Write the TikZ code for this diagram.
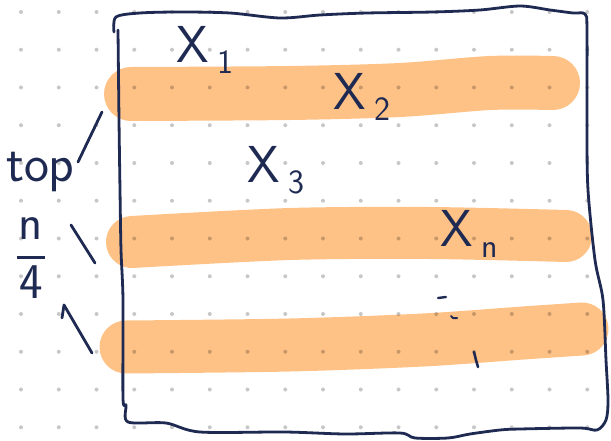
\documentclass[tikz,border=0pt]{standalone}
\usepackage{tikz}
\usetikzlibrary{positioning}
\definecolor{inknavy}{HTML}{1E2A52}
\definecolor{hlorange}{HTML}{FFC286}
\newcommand{\hsub}[1]{\,\raisebox{-11pt}{\fontsize{34}{34}\selectfont #1}}
\tikzset{
  griddot/.style={fill=black, opacity=0.22},
  hilite/.style={draw=hlorange, line width=54pt, line cap=round, line join=round},
  inkline/.style={draw=inknavy, line width=2.8pt, line cap=round, line join=round},
  handlab/.style={text=inknavy, inner sep=0pt, outer sep=0pt, anchor=base west,
                  font=\fontsize{52}{52}\selectfont\sffamily},
}

\begin{document}
\begin{tikzpicture}[x=1pt,y=-1pt]
\useasboundingbox (0,0) rectangle (611,441);
\draw[hilite] plot[smooth] coordinates {(131,94) (290,93) (400,90) (490,83) (553,83)};
\draw[hilite, line width=52pt] plot[smooth] coordinates {(132,242) (290,234) (430,233) (566,236)};
\draw[hilite, line width=53pt] plot[smooth] coordinates {(126,347) (290,345) (423,340) (523,333) (582,329)};
\foreach \i in {0,...,15}
  \foreach \j in {0,...,11}
    \fill[griddot] ({21+37.75*\i},{12+37.75*\j}) circle (2pt);
\draw[inkline] plot[smooth] coordinates {(114,32) (116,17) (140,13) (180,12) (230,13) (280,18)
  (320,15) (367,13) (433,12) (480,10) (520,6) (550,10) (573,13) (585,14) (587,30) (587,130)
  (588,190) (595,260) (603,300) (606,360) (608,400) (606,420) (597,430) (580,428) (520,429)
  (500,430) (470,434) (448,438) (415,438) (400,433) (345,434) (285,432) (200,432) (166,423)
  (128,422) (126,405) (123,398) (123,300) (121,250) (120,190) (119,120) (118,30)};
\node[handlab] (x1) at (176,63) {X\hsub{1}};
\node[handlab] (x2) at (333,110) {X\hsub{2}};
\node[handlab] (x3) at (247,183) {X\hsub{3}};
\node[handlab] (xn) at (440,247) {X\hsub{n}};
\node[handlab, font=\fontsize{53}{53}\selectfont\sffamily] (top) at (6,182) {top};
\node[handlab, anchor=center, font=\fontsize{50}{50}\selectfont\sffamily] (quart) at (31,259)
  {\setlength{\arrayrulewidth}{2.8pt}\setlength{\tabcolsep}{2pt}%
   \begin{tabular}{c}n\\[2pt]\hline\rule{0pt}{40pt}4\end{tabular}};
\draw[inkline] (102,112) -- (78,162);
\draw[inkline] (71,225) -- (95,263);
\draw[inkline] (62,318) -- (64,305) -- (92,353);
\draw[inkline, line width=2.4pt] (438,298) -- (446,297);
\draw[inkline, line width=2pt] (451,316) -- (453,318) -- (457,318);
\draw[inkline, line width=2.6pt] (474,352) -- (476,360) -- (478,367);
\end{tikzpicture}
\end{document}
